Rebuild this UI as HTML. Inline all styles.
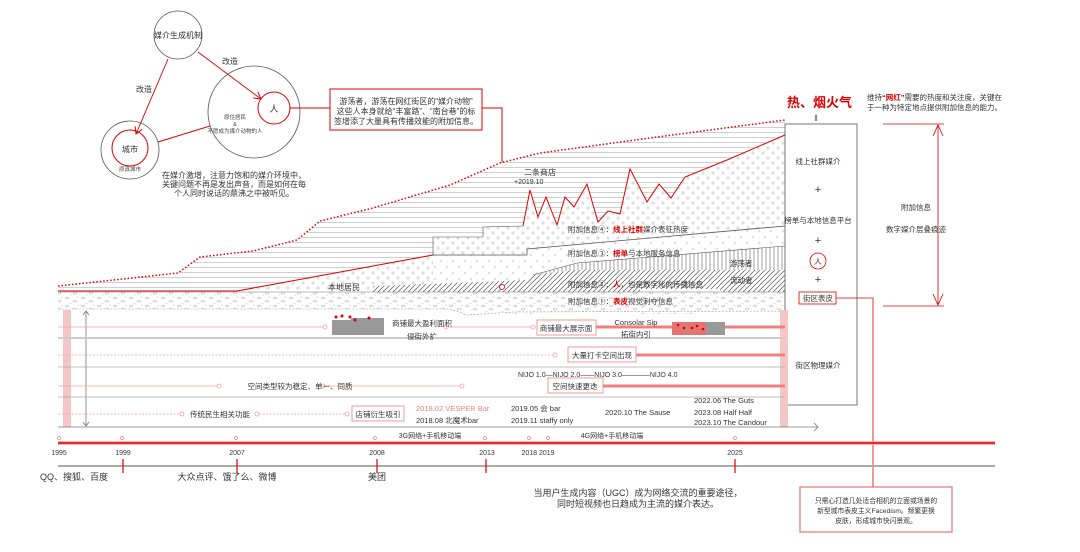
<!DOCTYPE html>
<html><head><meta charset="utf-8"><style>
html,body{margin:0;padding:0;background:#fff;}
svg{display:block;font-family:"Liberation Sans","Noto Sans CJK SC",sans-serif;}
</style></head><body>
<svg width="1080" height="552" viewBox="0 0 1080 552" xmlns="http://www.w3.org/2000/svg">
<defs>
<pattern id="hl" width="6" height="5" patternUnits="userSpaceOnUse"><rect width="6" height="5" fill="#fff"/><line x1="0" y1="2.5" x2="6" y2="2.5" stroke="#bbb" stroke-width="0.7"/></pattern>
<pattern id="dt" width="10" height="10" patternUnits="userSpaceOnUse"><rect width="10" height="10" fill="#fff"/><circle cx="3" cy="3" r="1.6" fill="#ddd"/><circle cx="8" cy="8" r="1.6" fill="#ddd"/></pattern>
<pattern id="dt2" width="12" height="12" patternUnits="userSpaceOnUse"><rect width="12" height="12" fill="#fff"/><circle cx="3" cy="3" r="1.3" fill="#e0e0e0"/><circle cx="9" cy="9" r="1.3" fill="#e0e0e0"/></pattern>
<pattern id="vl" width="4" height="4" patternUnits="userSpaceOnUse"><rect width="4" height="4" fill="#fff"/><line x1="2" y1="0" x2="2" y2="4" stroke="#777" stroke-width="0.7"/></pattern>
<pattern id="hx" width="5" height="5" patternUnits="userSpaceOnUse"><rect width="5" height="5" fill="#fff"/><path d="M0 5 L5 0 M-1 1 L1 -1 M4 6 L6 4" stroke="#555" stroke-width="0.7"/></pattern>
<pattern id="pb" width="16" height="8" patternUnits="userSpaceOnUse"><rect width="16" height="8" fill="#fff"/><ellipse cx="3" cy="2" rx="1.6" ry="0.9" fill="none" stroke="#bbb" stroke-width="0.6"/><ellipse cx="11" cy="5" rx="1.8" ry="1" fill="none" stroke="#bbb" stroke-width="0.6"/><circle cx="7" cy="7" r="0.5" fill="#aaa"/><circle cx="14" cy="1.5" r="0.5" fill="#aaa"/></pattern>
<marker id="ar" markerWidth="8" markerHeight="8" refX="7" refY="4" orient="auto" markerUnits="userSpaceOnUse"><path d="M0 0 L7 4 L0 8" fill="none" stroke="#d00" stroke-width="1"/></marker>
</defs>

<!-- circles diagram -->
<circle cx="178" cy="35" r="24" fill="none" stroke="#555" stroke-width="0.8"/>
<text x="178" y="38" font-size="8" text-anchor="middle" fill="#333">媒介生成机制</text>
<circle cx="130" cy="150" r="29" fill="none" stroke="#555" stroke-width="0.8"/>
<circle cx="130" cy="148" r="18" fill="none" stroke="#d00" stroke-width="1"/>
<text x="130" y="152" font-size="8" text-anchor="middle" fill="#333">城市</text>
<text x="130" y="171" font-size="5.5" text-anchor="middle" fill="#444">原真城市</text>
<circle cx="254" cy="112" r="46" fill="none" stroke="#555" stroke-width="0.8"/>
<circle cx="274" cy="108" r="16" fill="none" stroke="#d00" stroke-width="1"/>
<text x="274" y="112" font-size="9" text-anchor="middle" fill="#333">人</text>
<text x="235" y="119" font-size="5.5" text-anchor="middle" fill="#444">原住居民</text>
<text x="235" y="126" font-size="5.5" text-anchor="middle" fill="#444">&amp;</text>
<text x="235" y="133" font-size="5.5" text-anchor="middle" fill="#444">不愿成为媒介动物的人</text>
<line x1="198" y1="52" x2="261" y2="99" stroke="#d00" stroke-width="0.9" marker-end="url(#ar)"/>
<text x="222" y="64" font-size="8" fill="#333">改造</text>
<line x1="168" y1="59" x2="136" y2="134" stroke="#d00" stroke-width="0.9" marker-end="url(#ar)"/>
<text x="136" y="92" font-size="8" fill="#333">改造</text>
<line x1="158" y1="142" x2="210" y2="126" stroke="#d00" stroke-width="1"/>
<line x1="290" y1="108" x2="330" y2="108" stroke="#d00" stroke-width="1"/>
<rect x="330" y="89" width="152" height="41" fill="#fff" stroke="#d00" stroke-width="1"/>
<text x="406" y="104" font-size="8" text-anchor="middle" fill="#333">游荡者，游荡在网红街区的“媒介动物”</text>
<text x="406" y="114" font-size="8" text-anchor="middle" fill="#333">这些人本身就给“丰富路”、“南台巷”的标</text>
<text x="406" y="124" font-size="8" text-anchor="middle" fill="#333">签增添了大量具有传播效能的附加信息。</text>
<polyline points="482,108 502,108 502,287" fill="none" stroke="#d00" stroke-width="1"/>

<text x="234" y="178" font-size="8" text-anchor="middle" fill="#333">在媒介激增，注意力饱和的媒介环境中，</text>
<text x="234" y="187" font-size="8" text-anchor="middle" fill="#333">关键问题不再是发出声音，而是如何在每</text>
<text x="234" y="196" font-size="8" text-anchor="middle" fill="#333">个人同时说话的鼎沸之中被听见。</text>

<!-- strata -->
<polygon points="58,286 178,273 200,257 253,251 297,240 320,221 373,208 450,185 500,163 540,153 650,138 785,120 785,291 58,291" fill="url(#hl)"/>
<polygon points="237,291 433,255 433,237 483,237 483,227 523,226 530,190 538,217 546,197 557,225 565,197 574,207 587,184 598,222 608,211 620,214 630,169 647,202 659,184 671,198 685,177 727,160 785,133 785,291" fill="url(#dt)"/>
<polygon points="433,255 527,255 527,249 785,226 785,291 433,291" fill="url(#dt2)"/>
<polyline points="433,255 527,255 527,249 785,226" fill="none" stroke="#555" stroke-width="0.8"/>
<polyline points="237,291 433,255 433,237 483,237 483,227 523,226" fill="none" stroke="#555" stroke-width="0.6"/>
<polygon points="533,275 577,263 785,246 785,273 533,283" fill="url(#vl)"/>
<polyline points="533,275 577,263 785,246" fill="none" stroke="#555" stroke-width="0.6"/>
<polygon points="373,286 527,280 533,275 577,270 785,270 785,292 720,292 720,289 640,289 640,292 373,292" fill="url(#hx)"/>
<polyline points="58,291 237,291 433,255" fill="none" stroke="#d00" stroke-width="1"/>
<polyline points="523,226 530,190 538,217 546,197 557,225 565,197 574,207 587,184 598,222 608,211 620,214 630,169 647,202 659,184 671,198 685,177 727,160 785,135" fill="none" stroke="#d00" stroke-width="1"/>
<polyline points="58,286 178,273 200,257 253,251 297,240 320,221 373,208 450,185 500,163 540,153 650,138 785,120" fill="none" stroke="#d00" stroke-width="1.5" stroke-dasharray="1.5,2"/>
<polygon points="58,292 785,292 785,310 700,310 700,314 640,314 640,310 520,314 455,310 450,309 58,309" fill="url(#pb)"/>
<polyline points="58,309 450,309 467,315 513,312 785,311" fill="none" stroke="#999" stroke-width="0.6" stroke-dasharray="2,1.5"/>
<line x1="58" y1="292" x2="785" y2="292" stroke="#777" stroke-width="0.6"/>
<circle cx="502" cy="287" r="2.5" fill="#fff" stroke="#d00" stroke-width="0.8"/>
<text x="328" y="290" font-size="8" fill="#333">本地居民</text>
<text x="524" y="175" font-size="8" fill="#333">二条商店</text>
<text x="514" y="184" font-size="7" fill="#333">+2019.10</text>
<g font-size="7.5" fill="#333">
<text x="568" y="232">附加信息④：<tspan fill="#d00" font-weight="bold">线上社群</tspan>媒介表征热度</text>
<text x="568" y="256">附加信息③：<tspan fill="#d00" font-weight="bold">榜单</tspan>与本地服务信息</text>
<text x="568" y="287">附加信息②：<tspan fill="#d00" font-weight="bold">人</tspan>，也是数字化的传播信息</text>
<text x="568" y="304">附加信息①：<tspan fill="#d00" font-weight="bold">表皮</tspan>视觉刺夺信息</text>
<text x="730" y="266">游荡者</text>
<text x="730" y="283">流动者</text>
</g>

<!-- right box -->
<text x="787" y="107" font-size="13" font-weight="bold" fill="#d00">热、烟火气</text>
<text x="816" y="121" font-size="9" text-anchor="middle" fill="#555">‖</text>
<rect x="785" y="124" width="72" height="281" fill="#fff" stroke="#555" stroke-width="0.8"/>
<g font-size="7.5" fill="#333" text-anchor="middle">
<text x="818" y="164">线上社群媒介</text>
<text x="818" y="193" font-size="11">+</text>
<text x="818" y="223">榜单与本地信息平台</text>
<text x="818" y="244" font-size="11">+</text>
<text x="818" y="264">人</text>
<text x="818" y="283" font-size="11">+</text>
<text x="818" y="301">街区表皮</text>
<text x="818" y="368">街区物理媒介</text>
</g>
<circle cx="818" cy="261" r="8" fill="none" stroke="#d00" stroke-width="0.8"/>
<rect x="799" y="292" width="37" height="12" fill="none" stroke="#d00" stroke-width="0.8"/>
<polyline points="836,298 873,298 873,487" fill="none" stroke="#d00" stroke-width="0.8"/>
<text x="867" y="100" font-size="7.5" fill="#333">维持<tspan fill="#d00" font-weight="bold">“网红”</tspan>需要的热度和关注度，关键在</text>
<text x="867" y="110" font-size="7.5" fill="#333">于一种为特定地点提供附加信息的能力。</text>
<line x1="883" y1="124" x2="944" y2="124" stroke="#d00" stroke-width="0.8"/>
<line x1="883" y1="306" x2="944" y2="306" stroke="#d00" stroke-width="0.8"/>
<line x1="938" y1="125" x2="938" y2="305" stroke="#d00" stroke-width="0.8"/>
<path d="M933 136 L938 125 L943 136 M933 294 L938 305 L943 294" fill="none" stroke="#d00" stroke-width="0.8"/>
<text x="916" y="210" font-size="7.5" text-anchor="middle" fill="#333">附加信息</text>
<text x="916" y="232" font-size="7.5" text-anchor="middle" fill="#333">数字媒介层叠痕迹</text>

<!-- middle rows -->
<rect x="63" y="310" width="8" height="117" fill="#f5c6c6"/>
<rect x="780" y="310" width="8" height="117" fill="#f5c6c6"/>
<line x1="86" y1="311" x2="86" y2="426" stroke="#666" stroke-width="0.7"/>
<path d="M83 315 L86 311 L89 315 M83 422 L86 426 L89 422" fill="none" stroke="#666" stroke-width="0.7"/>
<line x1="58" y1="338" x2="785" y2="338" stroke="#ccc" stroke-width="2"/>
<line x1="58" y1="367" x2="785" y2="367" stroke="#aaa" stroke-width="0.8"/>
<line x1="58" y1="397" x2="785" y2="397" stroke="#aaa" stroke-width="0.8"/>
<line x1="58" y1="427" x2="818" y2="427" stroke="#777" stroke-width="0.8"/>
<path d="M814 423 L818 427 L814 431" fill="none" stroke="#777" stroke-width="0.8"/>

<g stroke="#f4a0a0" stroke-width="0.8" fill="#fff">
<line x1="58" y1="327" x2="323" y2="327"/><circle cx="325" cy="327" r="2"/>
<line x1="448" y1="327" x2="536" y2="327"/><circle cx="446" cy="327" r="2"/><circle cx="533" cy="327" r="2"/>
<line x1="58" y1="355" x2="553" y2="355" stroke-dasharray="2,1.5"/><circle cx="555" cy="355" r="2"/>
<line x1="58" y1="386" x2="217" y2="386"/><circle cx="219" cy="386" r="2"/>
<line x1="325" y1="386" x2="460" y2="386"/><circle cx="323" cy="386" r="2"/><circle cx="462" cy="386" r="2"/>
<line x1="58" y1="414" x2="180" y2="414" stroke-dasharray="2,1.5"/><circle cx="182" cy="414" r="2"/>
<line x1="259" y1="414" x2="345" y2="414" stroke-dasharray="2,1.5"/><circle cx="257" cy="414" r="2"/><circle cx="347" cy="414" r="2"/>
</g>
<g stroke="#f08080" stroke-width="3">
<line x1="596" y1="327" x2="785" y2="327"/>
<line x1="636" y1="355" x2="785" y2="355"/>
<line x1="603" y1="386" x2="785" y2="386"/>
</g>
<path d="M332 335 L332 320 L350 320 L352 318 L384 318 L384 335 Z" fill="#999"/>
<g fill="#d00"><circle cx="336" cy="317" r="1.5"/><circle cx="342" cy="316" r="1.5"/><circle cx="350" cy="317" r="1.5"/><circle cx="355" cy="320" r="1.5"/><circle cx="369" cy="318" r="1.5"/></g>
<rect x="672" y="322" width="53" height="13" fill="#999"/>
<rect x="672" y="322" width="14" height="13" fill="#e57373"/>
<rect x="687" y="322" width="19" height="13" fill="#e57373"/>
<g fill="#d00"><circle cx="678" cy="325" r="1.3"/><circle cx="684" cy="328" r="1.3"/><circle cx="692" cy="328" r="1.3"/><circle cx="697" cy="326" r="1.3"/><circle cx="703" cy="329" r="1.3"/></g>
<g font-size="7.5" fill="#333">
<text x="422" y="326" text-anchor="middle">商铺最大盈利面积</text>
<text x="422" y="339" text-anchor="middle">侵街外扩</text>
<text x="636" y="325" text-anchor="middle">Consolar Sip</text>
<text x="636" y="337" text-anchor="middle">拓街内引</text>
<text x="300" y="389" text-anchor="middle">空间类型较为稳定、单一、同质</text>
<text x="220" y="417" text-anchor="middle">传统民生相关功能</text>
<text x="416" y="411" fill="#f08080">2018.02 VESPER Bar</text>
<text x="416" y="423">2018.08 北魔术bar</text>
<text x="511" y="411">2019.05 会 bar</text>
<text x="511" y="423">2019.11 staffy only</text>
<text x="605" y="415">2020.10 The Sause</text>
<text x="694" y="403">2022.06 The Guts</text>
<text x="694" y="415">2023.08 Half Half</text>
<text x="694" y="425">2023.10 The Candour</text>
</g>
<text x="518" y="377" font-size="7" fill="#333">NIJO 1.0—NIJO 2.0——NIJO 3.0————NIJO 4.0</text>
<g fill="#fff" stroke="#f08080" stroke-width="0.8">
<rect x="537" y="320" width="59" height="15"/>
<rect x="568" y="347" width="68" height="15"/>
<rect x="548" y="378" width="55" height="15"/>
<rect x="352" y="406" width="52" height="15"/>
</g>
<g font-size="7.5" fill="#333" text-anchor="middle">
<text x="566" y="331">商铺最大展示面</text>
<text x="602" y="358">大量打卡空间出现</text>
<text x="575" y="389">空间快速更迭</text>
<text x="378" y="417">店铺衍生吸引</text>
</g>

<!-- timeline -->
<line x1="58" y1="443" x2="995" y2="443" stroke="#f5b0b0" stroke-width="4"/>
<line x1="58" y1="443" x2="995" y2="443" stroke="#d00" stroke-width="1.5"/>
<g fill="#fff" stroke="#f08080" stroke-width="0.7">
<circle cx="59" cy="438" r="1.5"/><circle cx="122" cy="438" r="1.5"/><circle cx="236" cy="438" r="1.5"/><circle cx="375" cy="438" r="1.5"/><circle cx="485" cy="438" r="1.5"/><circle cx="529" cy="438" r="1.5"/><circle cx="548" cy="438" r="1.5"/><circle cx="735" cy="438" r="1.5"/>
</g>
<g font-size="7" fill="#333" text-anchor="middle">
<text x="430" y="438">3G网络+手机移动端</text>
<text x="612" y="438">4G网络+手机移动端</text>
<text x="59" y="455">1995</text><text x="123" y="455">1999</text><text x="237" y="455">2007</text><text x="377" y="455">2008</text><text x="487" y="455">2013</text><text x="538" y="455">2018 2019</text><text x="735" y="455">2025</text>
</g>
<line x1="58" y1="466" x2="995" y2="466" stroke="#aaa" stroke-width="2"/>
<g stroke="#d00" stroke-width="1.2">
<line x1="123" y1="459" x2="123" y2="473"/><line x1="237" y1="459" x2="237" y2="473"/><line x1="377" y1="459" x2="377" y2="473"/><line x1="486" y1="459" x2="486" y2="473"/><line x1="735" y1="459" x2="735" y2="473"/>
</g>
<g font-size="9" fill="#333" text-anchor="middle">
<text x="74" y="480">QQ、搜狐、百度</text>
<text x="227" y="480">大众点评、饿了么、微博</text>
<text x="377" y="480">美团</text>
<text x="638" y="496">当用户生成内容（UGC）成为网络交流的重要途径，</text>
<text x="638" y="507">同时短视频也日趋成为主流的媒介表达。</text>
</g>
<rect x="800" y="487" width="152" height="45" fill="#fff" stroke="#e57373" stroke-width="1.2"/>
<g font-size="6.8" fill="#333" text-anchor="middle">
<text x="876" y="503">只需心打造几处适合相机的立面或场景的</text>
<text x="876" y="513">新型城市表皮主义Facedism。频繁更换</text>
<text x="876" y="523">皮肤，形成城市快闪景观。</text>
</g>
</svg>
</body></html>
